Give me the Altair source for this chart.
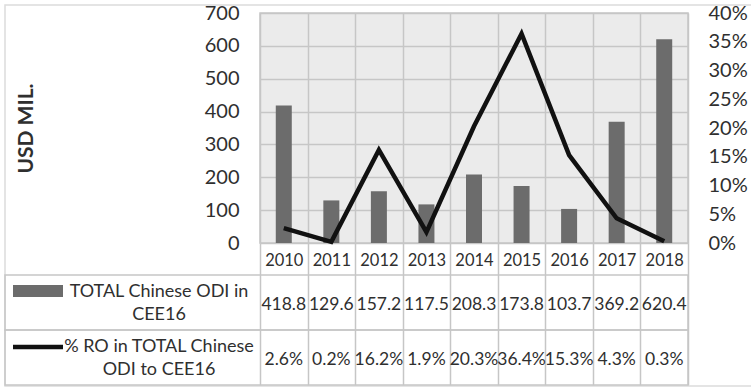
import altair as alt
import pandas as pd

# Chinese ODI in CEE16 and the share going to Romania, 2010-2018
years = ["2010", "2011", "2012", "2013", "2014", "2015", "2016", "2017", "2018"]
odi_usd_mil = [418.8, 129.6, 157.2, 117.5, 208.3, 173.8, 103.7, 369.2, 620.4]
ro_share_pct = [2.6, 0.2, 16.2, 1.9, 20.3, 36.4, 15.3, 4.3, 0.3]

row_keys = ["odi", "pct"]
row_titles = ["TOTAL Chinese ODI in\nCEE16", "% RO in TOTAL Chinese\nODI to CEE16"]

usd_ticks = [0, 100, 200, 300, 400, 500, 600, 700]
pct_ticks = [0, 5, 10, 15, 20, 25, 30, 35, 40]

FONT = "Lato"
TEXT = "#2f2f2f"
GRID = "#c6c6c6"
BAR = "#6c6c6c"
LINE = "#111111"

series = pd.DataFrame({
    "year": years,
    "odi": odi_usd_mil,
    "share": [v / 100 for v in ro_share_pct],
})

cells = pd.DataFrame(
    [{"year": y, "row": "odi", "label": f"{v:.1f}"} for y, v in zip(years, odi_usd_mil)]
    + [{"year": y, "row": "pct", "label": f"{v:.1f}%"} for y, v in zip(years, ro_share_pct)]
)
titles = pd.DataFrame({"row": row_keys, "title": row_titles})

x_enc = alt.X(
    "year:N",
    sort=years,
    scale=alt.Scale(paddingInner=0, paddingOuter=0),
    axis=alt.Axis(
        title=None, labelAngle=0, tickBand="extent", ticks=True, tickSize=142,
        tickColor=GRID, tickWidth=1.5, grid=True, gridColor=GRID, gridWidth=1.5,
        domain=False, labelPadding=-125, labelBaseline="middle",
        labelFont=FONT, labelFontSize=16.5, labelColor=TEXT,
    ),
)

bars = alt.Chart(series).mark_bar(size=16, color=BAR).encode(
    x=x_enc,
    y=alt.Y(
        "odi:Q",
        scale=alt.Scale(domain=[0, 700], nice=False, zero=True),
        axis=alt.Axis(
            values=usd_ticks, orient="left", ticks=False, domain=False,
            grid=True, gridColor=GRID, gridWidth=1.5,
            labelPadding=21, labelFont=FONT, labelFontSize=20, labelColor=TEXT,
            title="USD MIL.", titleFont=FONT, titleFontSize=21, titleFontWeight="bold",
            titleColor=TEXT, titleAngle=-90, titleX=-234, titleY=115,
            titleAlign="center", titleBaseline="middle",
        ),
    ),
)

line = alt.Chart(series).mark_line(color=LINE, strokeWidth=4.5).encode(
    x=alt.X("year:N", sort=years),
    y=alt.Y(
        "share:Q",
        scale=alt.Scale(domain=[0, 0.4], nice=False),
        axis=alt.Axis(
            values=[v / 100 for v in pct_ticks], format=".0%", orient="right",
            ticks=False, domain=False, grid=False, labelPadding=20,
            labelFont=FONT, labelFontSize=20, labelColor=TEXT, title=None,
        ),
    ),
)

row_y = alt.Y(
    "row:N",
    sort=row_keys,
    scale=alt.Scale(type="band", domain=row_keys, range=[262, 372], paddingInner=0, paddingOuter=0),
    axis=None,
)

# table rows drawn as bordered cells spanning the label column and the year columns
row_cells = alt.Chart(titles).mark_rect(fill=None, stroke=GRID, strokeWidth=1.5).encode(
    y=row_y, x=alt.value(-255), x2=alt.value(428)
)

# offsets below are measured from each row's top edge
values_text = alt.Chart(cells).mark_text(
    font=FONT, fontSize=17.5, color=TEXT, baseline="middle", align="center"
).encode(x=alt.X("year:N", sort=years), y=row_y, yOffset=alt.value(30), text="label:N")

title_text = alt.Chart(titles).mark_text(
    font=FONT, fontSize=18, color=TEXT, baseline="middle", align="center",
    lineBreak="\n", lineHeight=23,
).encode(x=alt.value(-101), y=row_y, yOffset=alt.value(17), text="title:N")

# legend keys in front of each row title
swatch_bar = alt.Chart(titles).transform_filter(alt.datum.row == "odi").mark_rule(
    color=BAR, strokeWidth=12, strokeCap="butt"
).encode(x=alt.value(-247), x2=alt.value(-197), y=row_y, yOffset=alt.value(16))

swatch_line = alt.Chart(titles).transform_filter(alt.datum.row == "pct").mark_rule(
    color=LINE, strokeWidth=4.5, strokeCap="butt"
).encode(x=alt.value(-247), x2=alt.value(-197), y=row_y, yOffset=alt.value(17))

frame = alt.Chart(titles).transform_filter(alt.datum.row == "odi").mark_rect(
    fill=None, stroke="#dcdcdc", strokeWidth=1.5
).encode(x=alt.value(-255), x2=alt.value(500), y=alt.value(-8), y2=alt.value(373))

table = alt.layer(frame, row_cells, values_text, title_text, swatch_bar, swatch_line)

chart = (
    alt.layer(bars, line, table)
    .resolve_scale(y="independent")
    .properties(
        width=428,
        height=230,
        autosize=alt.AutoSizeParams(type="none"),
        padding={"left": 260, "top": 13, "right": 63, "bottom": 144},
        background="white",
    )
    .configure_view(stroke=GRID, strokeWidth=1.5, fill="#ebebeb")
)

chart.save("out.html", embed_options={"renderer": "svg", "actions": False})
